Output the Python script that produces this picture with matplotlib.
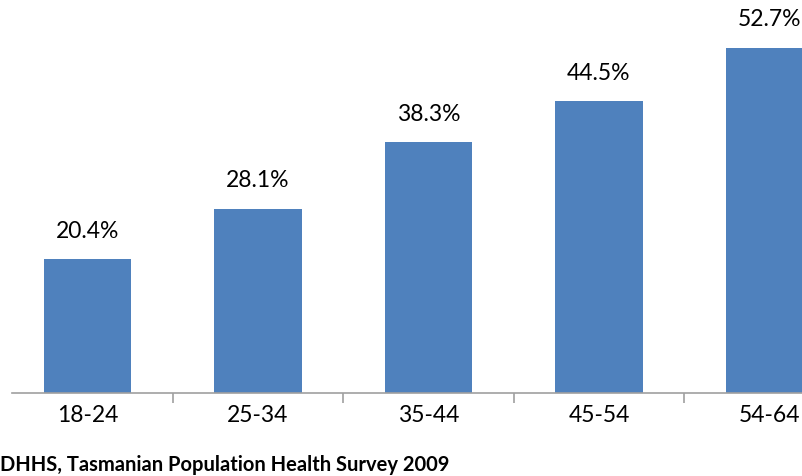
import numpy as np
import matplotlib.pyplot as plt

groups = ['18-24', '25-34', '35-44', '45-54', '54-64']
pct = [20.4, 28.1, 38.3, 44.5, 52.7]
source = 'DHHS, Tasmanian Population Health Survey 2009'

plt.rcParams['font.family'] = ['Lato', 'DejaVu Sans']

W, H = 802, 476
fig = plt.figure(figsize=(W / 100, H / 100), dpi=100)
# axes run past the right edge so the last bar is cut off
ax = fig.add_axes([2.2 / W, (H - 392.7) / H, 852.5 / W, 392.7 / H])

x = np.arange(len(groups))
bars = ax.bar(x, pct, width=0.515, color='#4F81BD', zorder=2)
for xi, v in zip(x, pct):
    ax.annotate(f'{v:.1f}%', (xi, v), xytext=(0, 12.5), textcoords='offset points',
                ha='center', va='bottom', fontsize=16.5, color='black')

ax.set_xlim(-0.5, 4.5)
ax.set_ylim(0, 60)
for s in ['top', 'right', 'left']:
    ax.spines[s].set_visible(False)
ax.spines['bottom'].set_color('#a0a0a0')
ax.spines['bottom'].set_linewidth(1.2)
ax.spines['bottom'].set_bounds(-0.5 + 10 / 170.5, 4.5)
ax.set_yticks([])

ax.set_xticks(x)
ax.set_xticklabels(groups, fontsize=16.5)
ax.tick_params(axis='x', which='major', length=0, pad=9)
ax.set_xticks(x[:-1] + 0.5, minor=True)
ax.tick_params(axis='x', which='minor', length=7, width=1.2, color='#a0a0a0')

fig.text(0.5 / W, 1 - 465 / H, source, fontsize=14.5, fontweight='bold',
         ha='left', va='center')

fig.savefig('out.png', dpi=100)
